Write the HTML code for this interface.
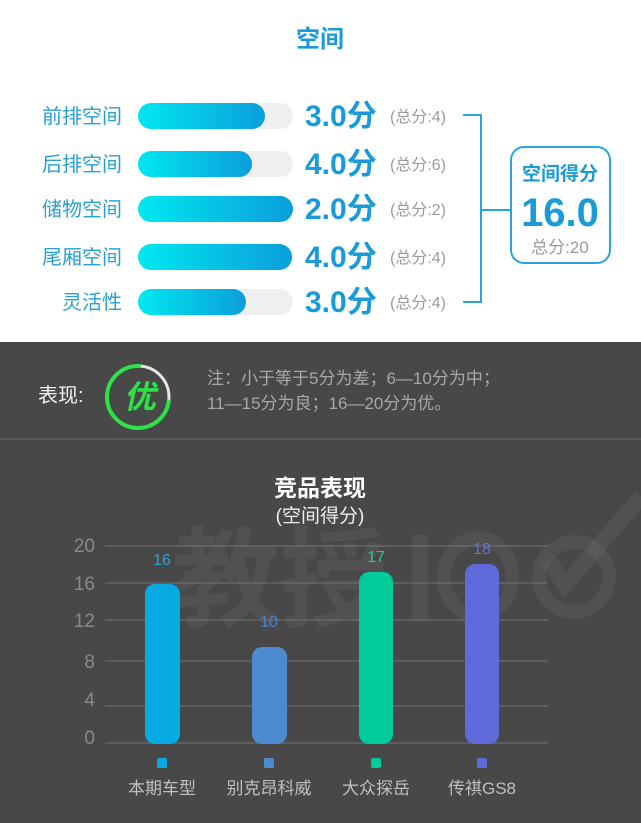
<!DOCTYPE html>
<html><head><meta charset="utf-8"><style>
html,body{margin:0;padding:0;background:#fff;}
svg{display:block;}
text{font-family:"Liberation Sans","Noto Sans CJK SC",sans-serif;}
</style></head><body>
<svg width="641" height="823" viewBox="0 0 641 823" xmlns="http://www.w3.org/2000/svg">
<defs>
<linearGradient id="g" x1="0" y1="0" x2="1" y2="0">
<stop offset="0" stop-color="#00e8f0"/><stop offset="1" stop-color="#0b9edb"/>
</linearGradient>
</defs>
<rect width="641" height="342" fill="#fff"/>
<rect y="342" width="641" height="481" fill="#484848"/>
<line x1="0" y1="439" x2="641" y2="439" stroke="#5e5e5e" stroke-width="1.5"/>

<text x="320" y="47" text-anchor="middle" font-size="24" font-weight="bold" fill="#1a9bd7">空间</text>

<g font-size="20" fill="#2a9fd3" text-anchor="end">
<text x="122" y="123">前排空间</text>
<text x="122" y="171">后排空间</text>
<text x="122" y="216">储物空间</text>
<text x="122" y="264">尾厢空间</text>
<text x="122" y="309">灵活性</text>
</g>
<g fill="#efefef">
<rect x="138" y="103" width="155" height="26" rx="13"/>
<rect x="138" y="151" width="155" height="26" rx="13"/>
<rect x="138" y="196" width="155" height="26" rx="13"/>
<rect x="138" y="244" width="155" height="26" rx="13"/>
<rect x="138" y="289" width="155" height="26" rx="13"/>
</g>
<g fill="url(#g)">
<rect x="138" y="103" width="127" height="26" rx="13"/>
<rect x="138" y="151" width="114" height="26" rx="13"/>
<rect x="138" y="196" width="155" height="26" rx="13"/>
<rect x="138" y="244" width="154" height="26" rx="13"/>
<rect x="138" y="289" width="108" height="26" rx="13"/>
</g>
<g font-size="30" font-weight="bold" fill="#1a9bd7">
<text x="305" y="126">3.0分</text>
<text x="305" y="174">4.0分</text>
<text x="305" y="219">2.0分</text>
<text x="305" y="267">4.0分</text>
<text x="305" y="312">3.0分</text>
</g>
<g font-size="16" fill="#9a9a9a">
<text x="390" y="122">(总分:4)</text>
<text x="390" y="170">(总分:6)</text>
<text x="390" y="215">(总分:2)</text>
<text x="390" y="263">(总分:4)</text>
<text x="390" y="308">(总分:4)</text>
</g>
<path d="M463 115 H481 V302 H463 M481 210 H511" fill="none" stroke="#2aa5d8" stroke-width="2"/>
<rect x="511" y="147" width="99" height="116" rx="13" fill="#fff" stroke="#2aa5d8" stroke-width="2"/>
<text x="560" y="180" text-anchor="middle" font-size="19" font-weight="bold" fill="#1a9bd7">空间得分</text>
<text x="560" y="226" text-anchor="middle" font-size="40" font-weight="bold" fill="#1a9bd7">16.0</text>
<text x="560" y="253" text-anchor="middle" font-size="17" fill="#9a9a9a">总分:20</text>

<text x="38" y="402" font-size="20" fill="#f0f0f0">表现:</text>
<circle cx="138" cy="397" r="31" fill="none" stroke="#e6e6e6" stroke-width="3"/>
<circle cx="138" cy="397" r="31" fill="none" stroke="#2ee04a" stroke-width="4" stroke-dasharray="146 200" transform="rotate(5 138 397)"/>
<text x="0" y="0" font-size="32" font-weight="bold" fill="#2ee04a" text-anchor="middle" transform="translate(140 408) skewX(-12)">优</text>
<g font-size="17" fill="#a8a8a8">
<text x="207" y="384">注：小于等于5分为差；6—10分为中；</text>
<text x="207" y="409">11—15分为良；16—20分为优。</text>
</g>

<text x="320" y="496" text-anchor="middle" font-size="23" font-weight="bold" fill="#ffffff">竞品表现</text>
<text x="320" y="522" text-anchor="middle" font-size="19" fill="#eeeeee">(空间得分)</text>

<!-- watermark -->
<g fill="#ffffff" fill-opacity="0.05" stroke="none">
<text x="172" y="618" font-size="108" font-weight="bold">教授</text>
<rect x="412" y="535" width="16" height="86"/>
</g>
<g fill="none" stroke="#ffffff" stroke-opacity="0.05">
<ellipse cx="478" cy="577" rx="34" ry="39" stroke-width="14"/>
<circle cx="574" cy="577" r="35" stroke-width="14"/>
<path d="M548 560 L565 585 L641 497" stroke-width="16"/>
</g>

<g stroke="#6c6c6c" stroke-width="1.2">
<line x1="105" y1="546" x2="548" y2="546"/>
<line x1="105" y1="583" x2="548" y2="583"/>
<line x1="105" y1="620" x2="548" y2="620"/>
<line x1="105" y1="661" x2="548" y2="661"/>
<line x1="105" y1="706" x2="548" y2="706"/>
<line x1="105" y1="743" x2="548" y2="743"/>
</g>
<g font-size="19" fill="#8a8a8a" text-anchor="end">
<text x="95" y="552">20</text>
<text x="95" y="590">16</text>
<text x="95" y="627">12</text>
<text x="95" y="668">8</text>
<text x="95" y="706">4</text>
<text x="95" y="744">0</text>
</g>

<rect x="145" y="584" width="35" height="160" rx="10" fill="#07aae2"/>
<rect x="252" y="647" width="35" height="97" rx="10" fill="#4c8bd0"/>
<rect x="359" y="572" width="34" height="172" rx="10" fill="#00cc9b"/>
<rect x="465" y="564" width="34" height="180" rx="10" fill="#5f6ada"/>

<g font-size="16" text-anchor="middle">
<text x="162" y="565" fill="#27a6dc">16</text>
<text x="269" y="627" fill="#4a86c6">10</text>
<text x="376" y="562" fill="#1fcf9e">17</text>
<text x="482" y="554" fill="#6b72d8">18</text>
</g>

<rect x="157" y="758" width="10" height="10" rx="2" fill="#07aae2"/>
<rect x="264" y="758" width="10" height="10" rx="2" fill="#4c8bd0"/>
<rect x="371" y="758" width="10" height="10" rx="2" fill="#00cc9b"/>
<rect x="477" y="758" width="10" height="10" rx="2" fill="#5f6ada"/>
<g font-size="17" fill="#c0c0c0" text-anchor="middle">
<text x="162" y="794">本期车型</text>
<text x="269" y="794">别克昂科威</text>
<text x="376" y="794">大众探岳</text>
<text x="482" y="794">传祺GS8</text>
</g>
</svg>
</body></html>
